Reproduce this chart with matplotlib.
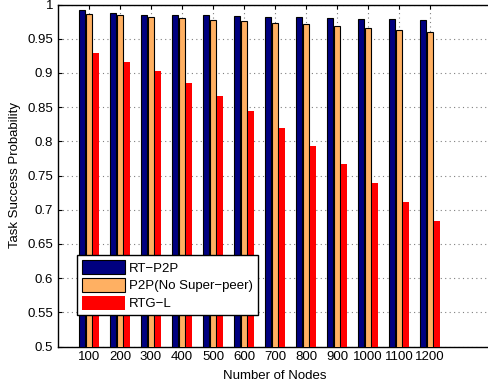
import matplotlib.pyplot as plt
import numpy as np

plt.rcParams["font.family"] = ["Liberation Sans", "DejaVu Sans"]

# data
nodes = ["100", "200", "300", "400", "500", "600", "700", "800", "900", "1000", "1100", "1200"]
rt_p2p = [0.992, 0.988, 0.985, 0.984, 0.984, 0.983, 0.982, 0.981, 0.980, 0.979, 0.979, 0.977]
p2p_no_sp = [0.986, 0.984, 0.981, 0.980, 0.978, 0.976, 0.973, 0.971, 0.969, 0.966, 0.963, 0.960]
rtg_l = [0.929, 0.916, 0.903, 0.885, 0.866, 0.844, 0.820, 0.793, 0.767, 0.739, 0.711, 0.683]

x = np.arange(1, len(nodes) + 1)
w = 0.2
step = 0.215

fig = plt.figure(figsize=(4.88, 3.85), dpi=100)
ax = fig.add_axes([58 / 488, 1 - 346.5 / 385, 434 / 488, 342 / 385])

ax.bar(x - step, rt_p2p, w, color="#000080", edgecolor="black", linewidth=0.8,
       label="RT\u2212P2P", zorder=3)
ax.bar(x, p2p_no_sp, w, color="#FFB062", edgecolor="black", linewidth=0.8,
       label="P2P(No Super\u2212peer)", zorder=3)
ax.bar(x + step, rtg_l, w, color="#FF0000", edgecolor="none",
       label="RTG\u2212L", zorder=3)

ax.set_xlim(0, 14)
ax.set_ylim(0.5, 1.0)
ax.set_xticks(x)
ax.set_xticklabels(nodes)
ax.set_yticks(np.arange(0.5, 1.001, 0.05))
ax.set_yticklabels(["0.5", "0.55", "0.6", "0.65", "0.7", "0.75", "0.8", "0.85", "0.9", "0.95", "1"])

ax.tick_params(direction="in", length=3, width=0.8, labelsize=9.5, pad=3.5,
               top=True, right=False)
ax.grid(True, color="#808080", linestyle=(0, (1, 3)), linewidth=0.8, zorder=0)
ax.set_axisbelow(True)

for s in ["left", "top", "bottom"]:
    ax.spines[s].set_linewidth(1.0)
ax.spines["right"].set_visible(False)

ax.set_xlabel("Number of Nodes", fontsize=9.5, labelpad=4.5)
ax.set_ylabel("Task Success Probability", fontsize=9.5, labelpad=4.5)

leg = ax.legend(loc="upper left", bbox_to_anchor=(19 / 434, 91.5 / 342),
                borderaxespad=0, fontsize=9.5, fancybox=False, framealpha=1,
                edgecolor="black", handlelength=3.2, handleheight=1.25,
                handletextpad=0.35, labelspacing=0.25, borderpad=0.4)
leg.get_frame().set_linewidth(1.0)

fig.savefig("out.png", dpi=100)
plt.close()
